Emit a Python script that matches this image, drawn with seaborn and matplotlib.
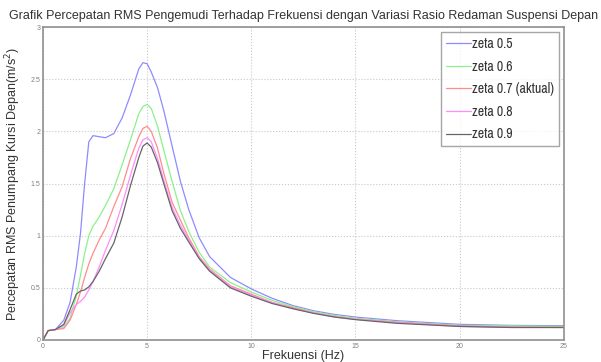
import matplotlib
matplotlib.use("Agg")
import matplotlib.pyplot as plt
from matplotlib import font_manager
import seaborn as sns
import pandas as pd

# data
freq = [0, 0.25, 0.6, 1.0, 1.3, 1.6, 1.8, 2.0, 2.2, 2.4, 2.7, 3.0, 3.4, 3.8,
        4.2, 4.6, 4.8, 5.0, 5.2, 5.5, 5.8, 6.2, 6.6, 7.0, 7.5, 8.0, 9.0, 10,
        11, 12, 13, 14, 15, 17, 20, 22.5, 25]
zeta_05 = [0, 0.09, 0.10, 0.19, 0.36, 0.70, 1.02, 1.50, 1.90, 1.96, 1.95, 1.94,
           1.98, 2.13, 2.35, 2.60, 2.66, 2.65, 2.57, 2.42, 2.20, 1.86, 1.52,
           1.25, 0.98, 0.80, 0.60, 0.49, 0.40, 0.33, 0.28, 0.245, 0.22, 0.185,
           0.15, 0.14, 0.137]
zeta_06 = [0, 0.09, 0.10, 0.12, 0.21, 0.42, 0.62, 0.83, 1.00, 1.09, 1.18, 1.29,
           1.45, 1.68, 1.92, 2.17, 2.24, 2.26, 2.22, 2.05, 1.82, 1.52, 1.24,
           1.04, 0.84, 0.70, 0.55, 0.46, 0.38, 0.32, 0.27, 0.235, 0.21, 0.175,
           0.14, 0.135, 0.13]
zeta_07 = [0, 0.09, 0.10, 0.11, 0.19, 0.34, 0.46, 0.60, 0.73, 0.83, 0.96, 1.07,
           1.28, 1.47, 1.74, 1.95, 2.03, 2.05, 2.00, 1.84, 1.60, 1.32, 1.15,
           0.98, 0.80, 0.68, 0.52, 0.44, 0.36, 0.31, 0.26, 0.225, 0.20, 0.17,
           0.135, 0.125, 0.12]
zeta_08 = [0, 0.09, 0.10, 0.14, 0.26, 0.34, 0.37, 0.41, 0.48, 0.56, 0.70, 0.86,
           1.05, 1.30, 1.58, 1.84, 1.92, 1.94, 1.90, 1.74, 1.53, 1.27, 1.10,
           0.96, 0.79, 0.67, 0.51, 0.43, 0.36, 0.30, 0.26, 0.22, 0.20, 0.165,
           0.13, 0.12, 0.12]
zeta_09 = [0, 0.09, 0.10, 0.15, 0.29, 0.44, 0.47, 0.48, 0.51, 0.56, 0.66, 0.78,
           0.93, 1.18, 1.48, 1.75, 1.86, 1.89, 1.85, 1.70, 1.50, 1.24, 1.07,
           0.94, 0.78, 0.66, 0.50, 0.42, 0.35, 0.30, 0.255, 0.22, 0.195, 0.16,
           0.13, 0.12, 0.12]
labels = ['zeta 0.5', 'zeta 0.6', 'zeta 0.7 (aktual)', 'zeta 0.8', 'zeta 0.9']
colors = ['#8c8cff', '#8cf08c', '#ff8c8c', '#ff8cff', '#666666']

df = pd.DataFrame({'Frekuensi': freq, labels[0]: zeta_05, labels[1]: zeta_06,
                   labels[2]: zeta_07, labels[3]: zeta_08, labels[4]: zeta_09})
df = df.melt(id_vars='Frekuensi', var_name='Rasio', value_name='RMS')

sns.set_style("whitegrid", {"axes.facecolor": "#ffffff",
                            "grid.linestyle": ":", "grid.color": "#c8c8c8",
                            "axes.edgecolor": "#909090"})
plt.rcParams['font.family'] = ['Liberation Sans', 'DejaVu Sans']

# a narrow face for the legend if one is installed
names = sorted({f.name for f in font_manager.fontManager.ttflist})
narrow = [n for n in names if 'Narrow' in n or 'Condensed' in n]
leg_family = narrow[0] if narrow else 'Liberation Sans'
leg_size = 10 if narrow else 8.5

fig = plt.figure(figsize=(6.01, 3.62), dpi=100)
ax = fig.add_axes([0.0715, 0.0608, 0.8665, 0.864])
sns.lineplot(data=df, x='Frekuensi', y='RMS', hue='Rasio', palette=colors,
             linewidth=0.9, ax=ax)

ax.set_xlim(0, 25)
ax.set_ylim(0, 3)
ax.set_xticks([0, 5, 10, 15, 20, 25])
ax.set_yticks([0, 0.5, 1, 1.5, 2, 2.5, 3])
ax.set_yticklabels(['0', '0.5', '1', '1.5', '2', '2.5', '3'])
ax.tick_params(labelsize=5, colors='#808080', length=3, direction='in', pad=2)
ax.grid(True, linestyle=':', color='#c8c8c8', linewidth=0.8)
for s in ax.spines.values():
    s.set_color('#909090')
    s.set_linewidth(1.2)

ax.set_title('Grafik Percepatan RMS Pengemudi Terhadap Frekuensi dengan Variasi Rasio Redaman Suspensi Depan',
             fontsize=9, color='#333333', pad=6)
ax.set_xlabel('Frekuensi (Hz)', fontsize=9, color='#333333', labelpad=0)
ax.set_ylabel('Percepatan RMS Penumpang Kursi Depan(m/s$^2$)', fontsize=9,
              color='#333333', labelpad=5)

leg = ax.legend(loc='upper right', bbox_to_anchor=(0.996, 0.993), frameon=True,
                fancybox=False, handlelength=1.8, handletextpad=0.1,
                labelspacing=0.62, borderpad=0.35, borderaxespad=0.2,
                prop={'family': leg_family, 'size': leg_size})
leg.get_frame().set_edgecolor('#909090')
leg.get_frame().set_linewidth(1.0)
for t in leg.get_texts():
    t.set_color('#333333')

fig.savefig('out.png', dpi=100)
